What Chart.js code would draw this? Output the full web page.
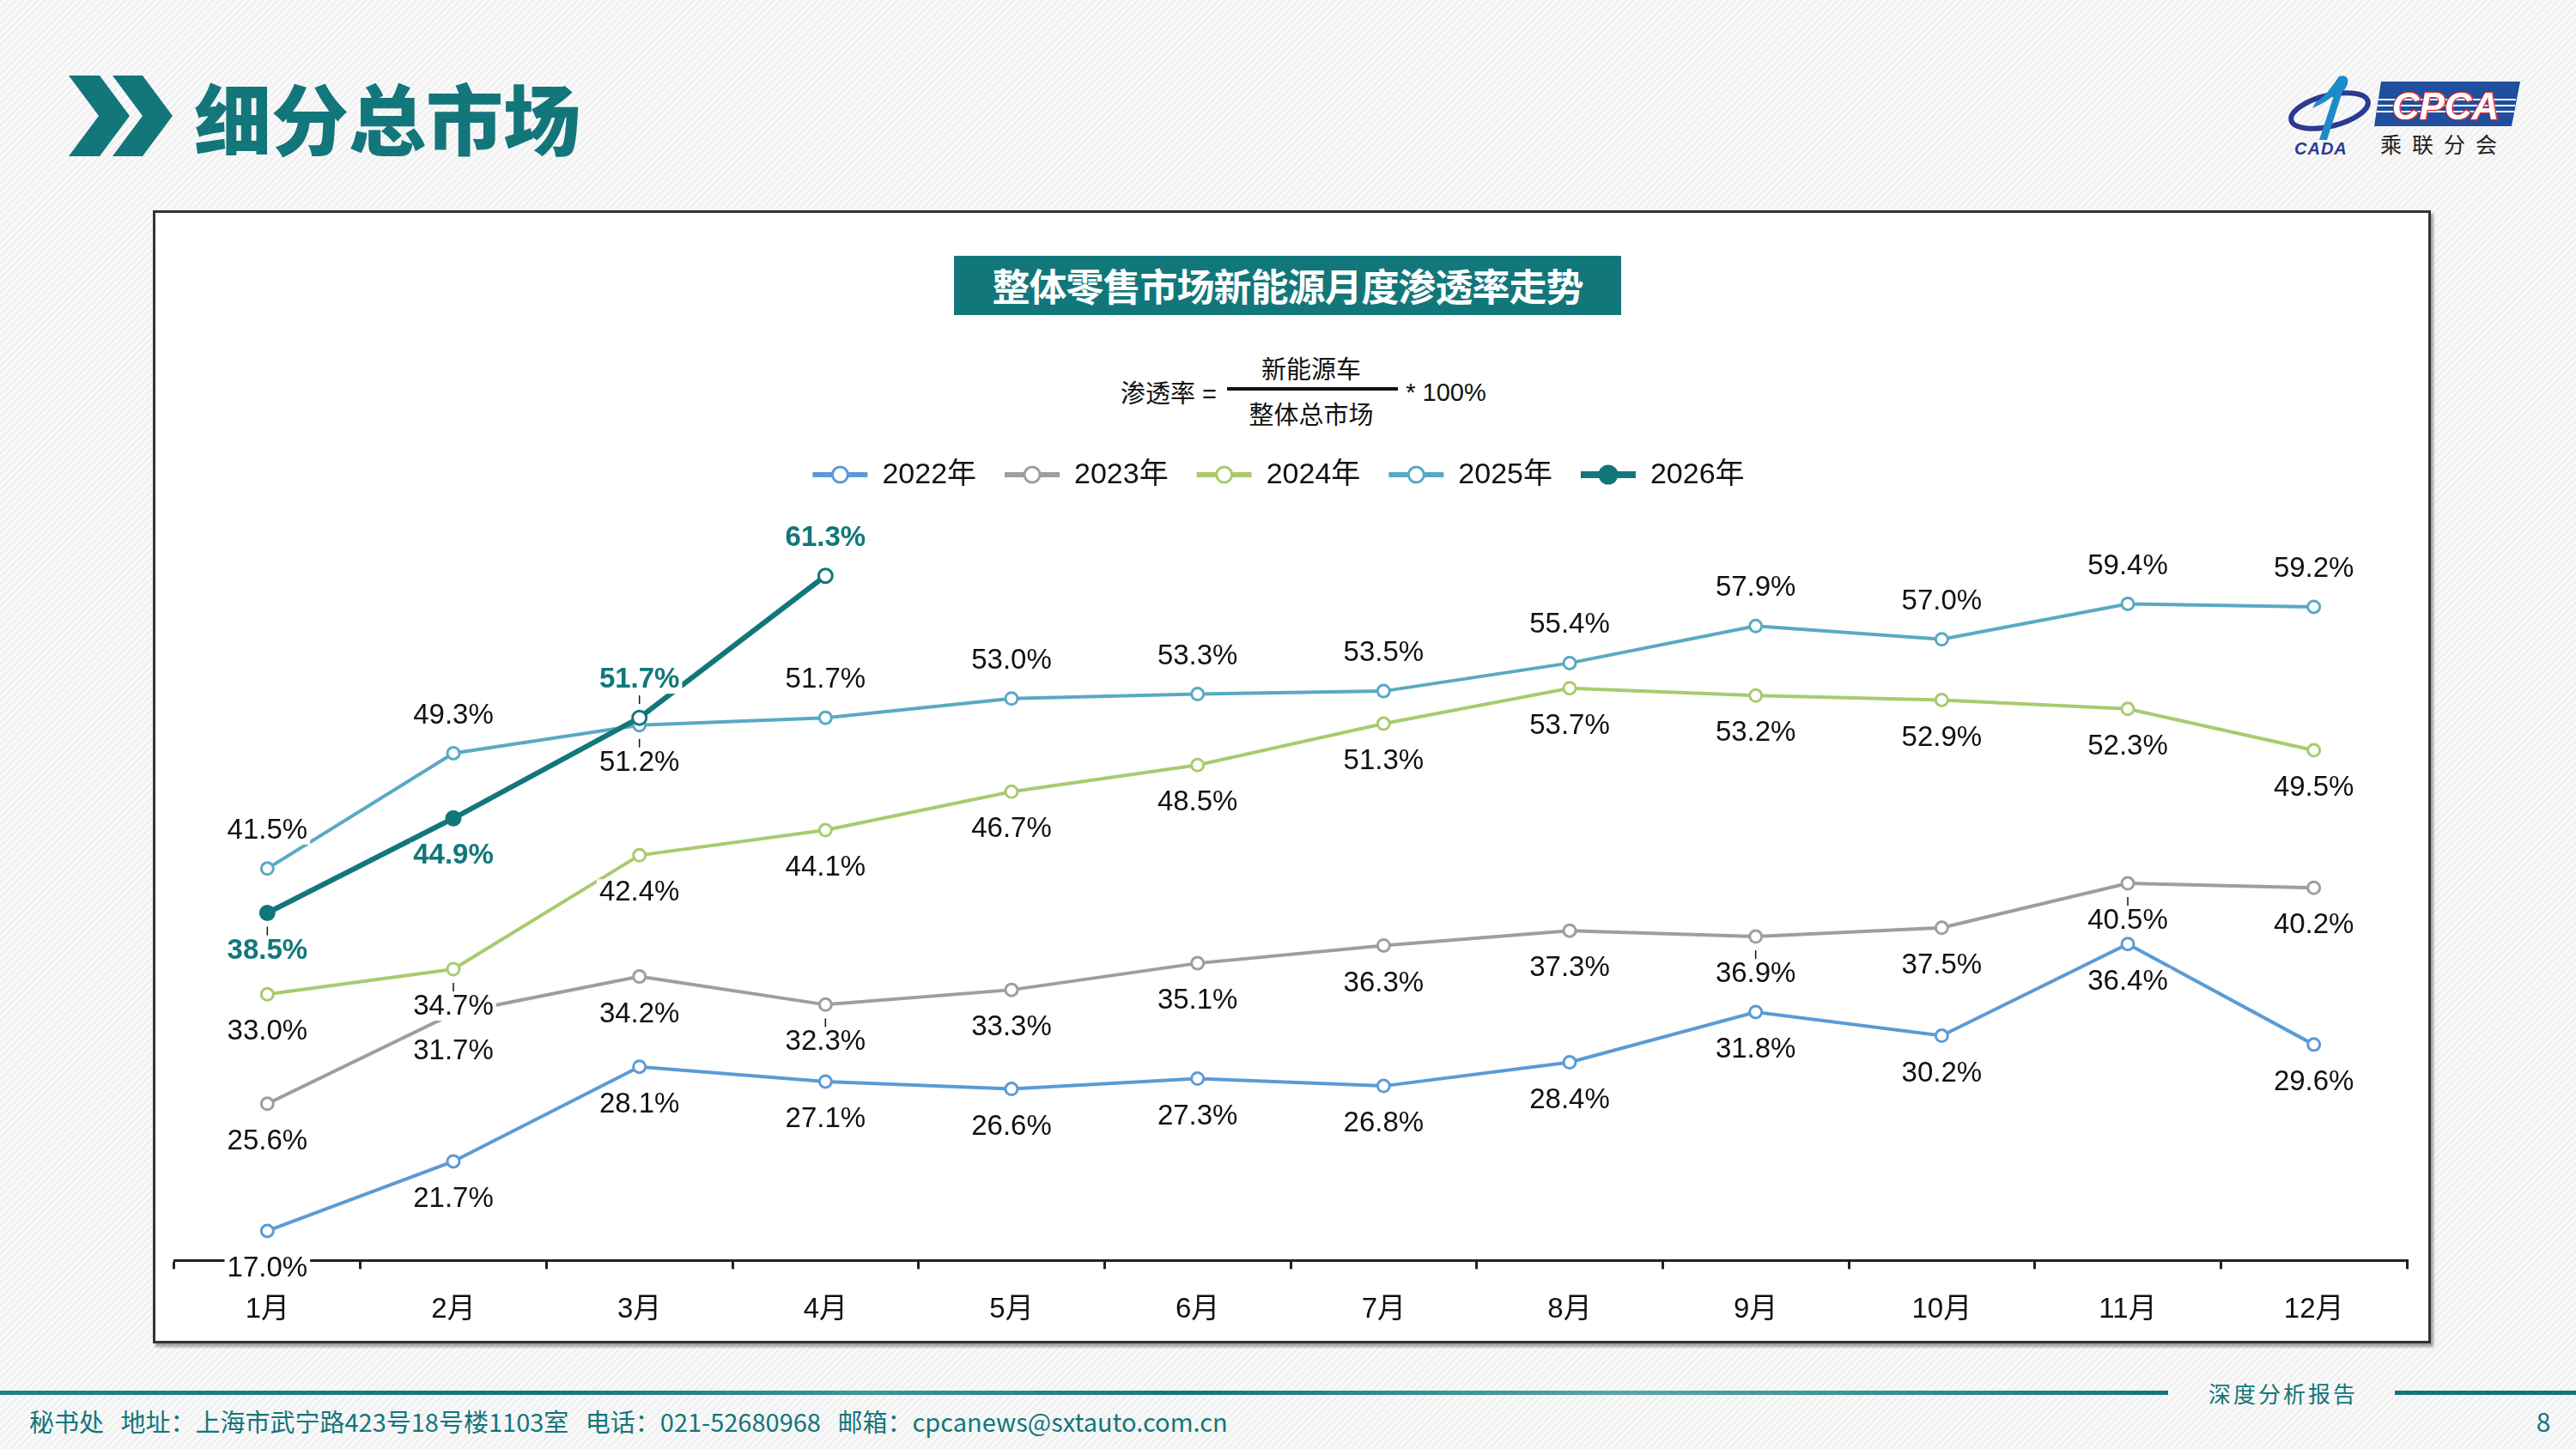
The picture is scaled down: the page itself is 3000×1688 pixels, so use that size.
<!DOCTYPE html>
<html>
<head>
<meta charset="utf-8">
<script src="https://cdn.jsdelivr.net/npm/chart.js@4.4.1/dist/chart.umd.min.js"></script>
<style>
  html, body { margin: 0; padding: 0; }
  body {
    width: 3000px; height: 1688px; position: relative; overflow: hidden;
    background: repeating-linear-gradient(135deg, #f1f1f1 0px, #f1f1f1 3px, #fafafa 3px, #fafafa 6px);
    font-family: "Liberation Sans", Arial, "Noto Sans CJK SC", sans-serif;
  }
  .abs { position: absolute; }
  .c { position: absolute; transform: translate(-50%, -50%); white-space: nowrap; }
  #box {
    left: 178px; top: 245px; width: 2653px; height: 1320px; box-sizing: border-box;
    background: #fff; border: 3px solid #333; box-shadow: 3px 4px 3px rgba(0,0,0,0.35);
  }
  #head {
    left: 226px; top: 80px; font-family: "Noto Sans CJK SC", sans-serif; font-weight: 900;
    font-size: 90px; line-height: 110px; color: #12767a;
  }
  #titlebox {
    left: 1111px; top: 298px; width: 777px; height: 69px; background: #12777a;
    color: #fff; font-family: "Noto Sans CJK SC", sans-serif; font-weight: 700;
    font-size: 44px; line-height: 69px; text-align: center; letter-spacing: -1px;
  }
  .f { font-size: 29px; color: #111; font-family: "Liberation Sans", "Noto Sans CJK SC", sans-serif; }
  #wrap { position: absolute; left: 0; top: 0; width: 3000px; height: 1688px; }
  .foot { color: #12767a; font-family: "Noto Sans CJK SC", "Liberation Sans", sans-serif; }
</style>
</head>
<body>
<div id="box" class="abs"></div>

<svg class="abs" style="left:0;top:0" width="260" height="200">
  <polygon points="80,88 116,88 151,135 116,182 80,182 115,135" fill="#12767a"/>
  <polygon points="131,88 166,88 201,135 166,182 131,182 166,135" fill="#12767a"/>
</svg>
<div id="head" class="abs">细分总市场</div>

<svg class="abs" style="left:2660px;top:85px" width="290" height="100">
  <ellipse cx="53" cy="44" rx="46" ry="18" transform="rotate(-14 53 44)" fill="none" stroke="#2b3a92" stroke-width="6"/>
  <path d="M64 4 C76 0 78 13 68 22 L50 78 L41 78 L58 26 C51 32 43 37 33 41 L37 34 C47 28 55 17 64 4 Z" fill="#1e8bc9"/>
  <text x="12" y="95" font-size="20" font-style="italic" font-weight="bold" fill="#2b3a92" font-family="Liberation Sans" letter-spacing="1">CADA</text>
  <polygon points="113,10 275,10 265,62 105,62" fill="#1f4f9e"/>
  <line x1="110" y1="31" x2="270" y2="31" stroke="#fff" stroke-width="2"/>
  <line x1="109" y1="38" x2="269" y2="38" stroke="#fff" stroke-width="2"/>
  <line x1="108" y1="45" x2="268" y2="45" stroke="#fff" stroke-width="2"/>
  <text x="188" y="54" text-anchor="middle" font-size="44" font-style="italic" font-weight="bold" fill="#fff" stroke="#e02525" stroke-width="2.5" paint-order="stroke" font-family="Liberation Sans">CPCA</text>
  <text x="112" y="93" font-size="25" fill="#222" letter-spacing="12" font-family="Noto Sans CJK SC">乘联分会</text>
</svg>

<div id="titlebox" class="abs">整体零售市场新能源月度渗透率走势</div>
<div class="c f" style="left:1361px;top:456px">渗透率 =</div>
<div class="c f" style="left:1527px;top:428px">新能源车</div>
<div class="abs" style="left:1429px;top:451px;width:199px;height:4px;background:#111"></div>
<div class="c f" style="left:1527px;top:481px">整体总市场</div>
<div class="c f" style="left:1684px;top:457px">* 100%</div>

<div class="abs" style="left:0;top:1620px;width:2525px;height:5px;background:linear-gradient(90deg,#1f8386 0,#12767a 25%,#3d9497 40%,#12767a 55%,#5aa5a8 75%,#12767a 100%)"></div>
<div class="abs" style="left:2789px;top:1620px;width:211px;height:5px;background:#12767a"></div>
<div class="c foot" style="left:2659px;top:1622px;font-size:26px;letter-spacing:3px">深度分析报告</div>
<div class="abs foot" style="left:34px;top:1637px;font-size:29px;line-height:36px;white-space:nowrap">秘书处&nbsp;&nbsp;&nbsp;地址：上海市武宁路423号18号楼1103室&nbsp;&nbsp;&nbsp;电话：021-52680968&nbsp;&nbsp;&nbsp;邮箱：cpcanews@sxtauto.com.cn</div>
<div class="c foot" style="left:2962px;top:1655px;font-size:30px">8</div>

<div id="wrap"><canvas id="chart"></canvas></div>

<script>
const months = ["1月", "2月", "3月", "4月", "5月", "6月", "7月", "8月", "9月", "10月", "11月", "12月"];
const seriesNames = ["2022年", "2023年", "2024年", "2025年", "2026年"];
const rate2022 = [17.0, 21.7, 28.1, 27.1, 26.6, 27.3, 26.8, 28.4, 31.8, 30.2, 36.4, 29.6];
const rate2023 = [25.6, 31.7, 34.2, 32.3, 33.3, 35.1, 36.3, 37.3, 36.9, 37.5, 40.5, 40.2];
const rate2024 = [33.0, 34.7, 42.4, 44.1, 46.7, 48.5, 51.3, 53.7, 53.2, 52.9, 52.3, 49.5];
const rate2025 = [41.5, 49.3, 51.2, 51.7, 53.0, 53.3, 53.5, 55.4, 57.9, 57.0, 59.4, 59.2];
const rate2026 = [38.5, 44.9, 51.7, 61.3];

const FONT = '"Liberation Sans", Arial, "Noto Sans CJK SC", sans-serif';
const TEAL = "#12777a";

function line(label, data, color, extra) {
  return Object.assign({
    label: label,
    data: data,
    borderColor: color,
    backgroundColor: color,
    borderWidth: 4,
    pointRadius: 7,
    pointBorderWidth: 3,
    pointBackgroundColor: "#fff",
    pointBorderColor: color,
    tension: 0,
    fill: false,
    labelColor: "#111",
    labelBold: false,
    labelAbove: data.map(() => false),
    leaders: [],
    order: 1
  }, extra || {});
}

const datasets = [
  line(seriesNames[0], rate2022, "#5b9bd5"),
  line(seriesNames[1], rate2023, "#9e9e9e", { leaders: [3, 8, 10] }),
  line(seriesNames[2], rate2024, "#a8cb6e", { leaders: [1] }),
  line(seriesNames[3], rate2025, "#5aa9c4", {
    labelAbove: rate2025.map((v, i) => i !== 2),
    leaders: [2]
  }),
  line(seriesNames[4], rate2026, TEAL, {
    borderWidth: 6,
    pointRadius: 8,
    pointBackgroundColor: [TEAL, TEAL, "#fff", "#fff"],
    labelColor: TEAL,
    labelBold: true,
    labelAbove: [false, false, true, true],
    leaders: [0, 2],
    order: 0
  })
];

// value labels with white backing, drawn over the lines and the axis
const valueLabels = {
  id: "valueLabels",
  afterDatasetsDraw(chart) {
    const ctx = chart.ctx;
    ctx.save();
    chart.data.datasets.forEach((ds, i) => {
      const meta = chart.getDatasetMeta(i);
      meta.data.forEach((pt, j) => {
        const v = ds.data[j];
        if (v == null) return;
        const text = v.toFixed(1) + "%";
        const dir = ds.labelAbove[j] ? -1 : 1;
        ctx.font = (ds.labelBold ? "bold " : "") + "33px " + FONT;
        const w = ctx.measureText(text).width;
        const y = pt.y + dir * 44;
        ctx.fillStyle = "#fff";
        ctx.fillRect(pt.x - w / 2 - 3, y - 16, w + 6, 32);
        if (ds.leaders.includes(j)) {
          ctx.strokeStyle = "#111";
          ctx.lineWidth = 1.5;
          ctx.beginPath();
          ctx.moveTo(pt.x, pt.y + dir * 16);
          ctx.lineTo(pt.x, pt.y + dir * 26);
          ctx.stroke();
        }
        ctx.fillStyle = ds.labelColor;
        ctx.textAlign = "center";
        ctx.textBaseline = "middle";
        ctx.fillText(text, pt.x, y);
      });
    });
    ctx.restore();
  }
};

// line-and-marker legend like the office chart
const lineLegend = {
  id: "lineLegend",
  afterDraw(chart) {
    const ctx = chart.ctx;
    const y = 553, mark = 64, gap = 17, spacing = 33;
    ctx.save();
    ctx.font = "34px " + FONT;
    const items = chart.data.datasets.map(ds => ({ ds: ds, w: ctx.measureText(ds.label).width }));
    const total = items.reduce((s, it) => s + mark + gap + it.w, 0) + spacing * (items.length - 1);
    let x = 1489 - total / 2;
    items.forEach(it => {
      const ds = it.ds;
      const solid = ds.label === "2026年";
      ctx.strokeStyle = ds.borderColor;
      ctx.lineWidth = solid ? 8 : 6;
      ctx.beginPath();
      ctx.moveTo(x, y);
      ctx.lineTo(x + mark, y);
      ctx.stroke();
      ctx.beginPath();
      ctx.arc(x + mark / 2, y, solid ? 10 : 9, 0, Math.PI * 2);
      ctx.fillStyle = solid ? ds.borderColor : "#fff";
      ctx.fill();
      ctx.lineWidth = 3;
      ctx.stroke();
      ctx.fillStyle = "#111";
      ctx.textAlign = "left";
      ctx.textBaseline = "middle";
      ctx.fillText(ds.label, x + mark + gap, y + 1);
      x += mark + gap + it.w + spacing;
    });
    ctx.restore();
  }
};

new Chart(document.getElementById("chart"), {
  type: "line",
  data: { labels: months, datasets: datasets },
  options: {
    responsive: true,
    maintainAspectRatio: false,
    animation: false,
    layout: { padding: { left: 203, right: 197, top: 607, bottom: 114 } },
    plugins: {
      legend: { display: false },
      tooltip: { enabled: false }
    },
    scales: {
      x: {
        offset: true,
        grid: {
          offset: true,
          drawOnChartArea: false,
          drawTicks: true,
          tickLength: 10,
          color: "#222",
          lineWidth: 3
        },
        border: { color: "#222", width: 3 },
        ticks: { padding: 28, color: "#111", font: { size: 33, family: FONT } }
      },
      y: { display: false, min: 15, max: 65 }
    }
  },
  plugins: [valueLabels, lineLegend]
});
</script>
</body>
</html>
